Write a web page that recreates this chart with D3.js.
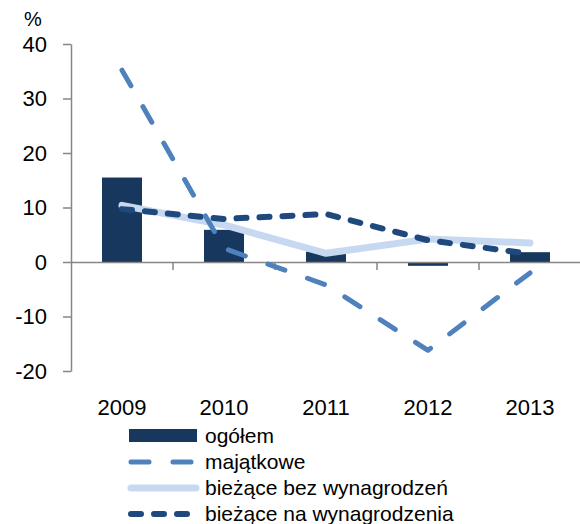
<html>
<head>
    <script src="https://cdnjs.cloudflare.com/ajax/libs/d3/7.1.1/d3.js"></script>
    <style>
        body { margin: 0; background: #fff; }
    </style>
</head>
<body>
    <script>
        const years = ['2009', '2010', '2011', '2012', '2013'];
        const ogolem = [15.5, 5.9, 1.9, -0.7, 1.8];
        const majatkowe = [35.2, 2.5, -4.2, -16.2, -2.0];
        const biezaceBez = [10.4, 6.8, 1.6, 4.2, 3.5];
        const biezaceNa = [9.7, 7.9, 8.8, 4.0, 1.5];
        const yTicks = [-20, -10, 0, 10, 20, 30, 40];

        const width = 580;
        const height = 524;
        const font = 'Liberation Sans';

        const svg = d3.select('body').append('svg')
            .attr('width', width)
            .attr('height', height);

        const x = d3.scaleBand().domain(years).range([71, 581]);
        const y = d3.scaleLinear().domain([-20, 40]).range([371, 44]);
        const cx = d => x(d) + x.bandwidth() / 2;
        const axisColor = '#868686';

        // y axis
        const yAxis = svg.append('g')
            .attr('transform', 'translate(71,0)')
            .call(d3.axisLeft(y).tickValues(yTicks).tickSize(8).tickPadding(16)
                .tickSizeOuter(0).tickFormat(d => String(d)));
        yAxis.select('.domain').attr('stroke', axisColor).attr('stroke-width', 1.5);
        yAxis.selectAll('.tick line').attr('stroke', axisColor).attr('stroke-width', 1.5);
        yAxis.selectAll('.tick text')
            .attr('font-family', font).attr('font-size', 22).attr('fill', '#000');

        svg.append('text')
            .attr('x', 33).attr('y', 26)
            .attr('text-anchor', 'middle')
            .attr('font-family', font).attr('font-size', 20)
            .text('%');

        // bars
        const barW = 40;
        svg.selectAll('.bar')
            .data(ogolem)
            .enter().append('rect')
            .attr('class', 'bar')
            .attr('x', (d, i) => cx(years[i]) - barW / 2)
            .attr('width', barW)
            .attr('y', d => y(Math.max(0, d)))
            .attr('height', d => Math.abs(y(d) - y(0)))
            .attr('fill', '#17375E');

        // x axis at zero
        const xAxis = svg.append('g')
            .attr('transform', `translate(0,${y(0)})`)
            .call(d3.axisBottom(x).tickSize(0).tickFormat(''));
        xAxis.select('.domain').attr('stroke', axisColor).attr('stroke-width', 1.5);
        xAxis.selectAll('.tick').remove();
        years.slice(1).forEach(yr => {
            svg.append('line')
                .attr('x1', x(yr)).attr('x2', x(yr))
                .attr('y1', y(0)).attr('y2', y(0) + 8)
                .attr('stroke', axisColor).attr('stroke-width', 1.5);
        });

        svg.selectAll('.xlabel')
            .data(years)
            .enter().append('text')
            .attr('class', 'xlabel')
            .attr('x', d => cx(d))
            .attr('y', 415)
            .attr('text-anchor', 'middle')
            .attr('font-family', font).attr('font-size', 22)
            .text(d => d);

        const line = d3.line().x((d, i) => cx(years[i])).y(d => y(d));

        const series = [
            { data: biezaceBez, color: '#C6D9F1', width: 7, dash: null },
            { data: biezaceNa, color: '#1F497D', width: 6, dash: '10,13' },
            { data: majatkowe, color: '#4F81BD', width: 5, dash: '18,24' }
        ];

        series.forEach(s => {
            svg.append('path')
                .attr('d', line(s.data))
                .attr('fill', 'none')
                .attr('stroke', s.color)
                .attr('stroke-width', s.width)
                .attr('stroke-linecap', 'round')
                .attr('stroke-linejoin', 'round')
                .attr('stroke-dasharray', s.dash);
        });

        // legend
        const legend = [
            { label: 'ogółem', type: 'bar', color: '#17375E' },
            { label: 'majątkowe', color: '#4F81BD', width: 5, dash: '18,24' },
            { label: 'bieżące bez wynagrodzeń', color: '#C6D9F1', width: 7, dash: null },
            { label: 'bieżące na wynagrodzenia', color: '#1F497D', width: 6, dash: '10,13' }
        ];
        const lg = svg.append('g');
        legend.forEach((l, i) => {
            const yy = 436 + i * 26;
            if (l.type === 'bar') {
                lg.append('rect')
                    .attr('x', 129).attr('y', yy - 7)
                    .attr('width', 68).attr('height', 13)
                    .attr('fill', l.color);
            } else {
                lg.append('line')
                    .attr('x1', 131).attr('x2', 196)
                    .attr('y1', yy).attr('y2', yy)
                    .attr('stroke', l.color)
                    .attr('stroke-width', l.width)
                    .attr('stroke-linecap', 'round')
                    .attr('stroke-dasharray', l.dash);
            }
            lg.append('text')
                .attr('x', 205).attr('y', yy + 7)
                .attr('font-family', font).attr('font-size', 21)
                .text(l.label);
        });
    </script>
</body>
</html>
